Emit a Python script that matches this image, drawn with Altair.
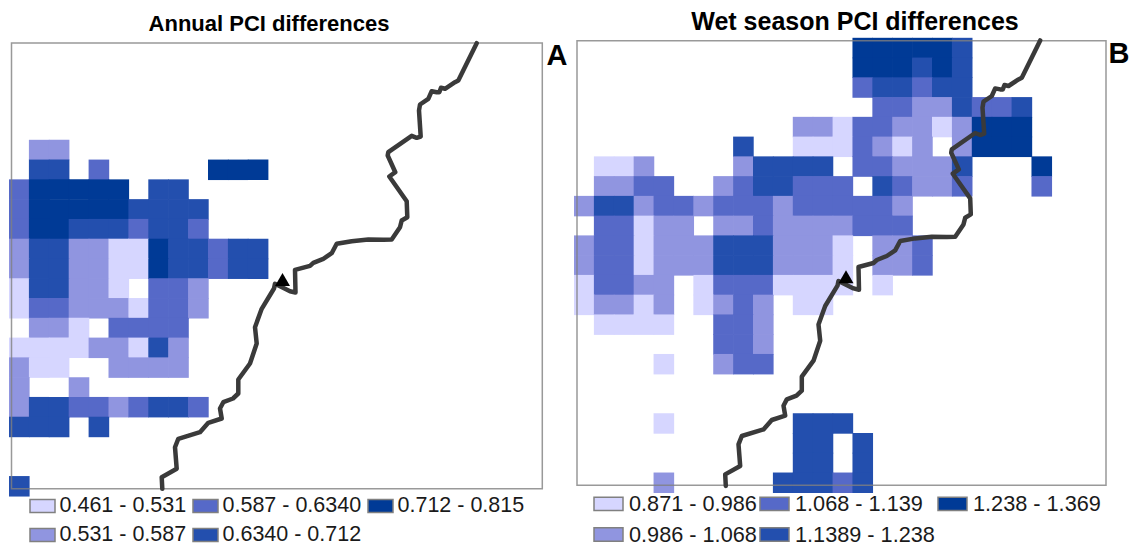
import altair as alt
import pandas as pd

FONT = "Liberation Sans"

# Class colours, shared by both panels
class_colors = ["#D6D6FF", "#9095E0", "#5669C8", "#234FAE", "#003A96"]

# Panel A: each string is a row of the raster, digit = class (1-5), "." = no data
grid_a = [
    ".22",
    ".44.3.....555",
    "355555.44",
    "3555554444",
    "3554443443",
    "2442211544344",
    "2442211544344",
    "144221.332",
    "1332221332",
    ".221.3333",
    "111122142",
    "211..2222",
    "2..2",
    "2443323443",
    "444.4",
    "",
    "",
    "4",
]
labels_a = ["0.461 - 0.531", "0.531 - 0.587", "0.587 - 0.6340", "0.6340 - 0.712", "0.712 - 0.815"]

# Panel B
grid_b = [
    "..............555554",
    "..............555454",
    "..............344344",
    "...............33224334",
    "...........221332212555",
    "........4..1113212.2555",
    ".112....24444.332224...5",
    ".2233..2344333.43223...3",
    "24423323332333332",
    ".33122.2232222333",
    "23312224442221.223",
    "23312224442221.223",
    "13322.13331111.1",
    "12212.1232.11",
    ".1111..332",
    ".......332",
    "....1..233",
    "",
    "",
    "....1......444",
    "...........44.4",
    "...........44.4",
    "....2.....44434",
]
labels_b = ["0.871 - 0.986", "0.986 - 1.068", "1.068 - 1.139", "1.1389 - 1.238", "1.238 - 1.369"]

# Shared river course (map coordinates, panel A frame)
river_x = [476.7, 458.3, 455, 445, 441, 439.3, 436.7, 431.7, 428.3, 420, 419, 420.7, 416.7, 411.7,
           388.3, 387.7, 395.3, 389.3, 406.7, 407.3, 401.7, 400, 391.7, 383.3, 368.3, 351.7, 336.7,
           331.7, 323.3, 313.3, 310, 295, 295.5, 290, 275, 274, 261.7, 255, 256.7, 250, 238.3, 238.3,
           233, 223.3, 220, 221.7, 208.3, 200, 178.3, 175, 176.7, 161.7, 162.3]
river_y = [42.7, 80, 81.7, 88.3, 87.3, 91.7, 91.7, 90.7, 98.3, 104, 110, 136, 137.3, 135.3,
           151.7, 155, 171.7, 176, 200.7, 216.7, 220, 226.7, 239, 239.3, 239, 240.7, 243.3,
           252.7, 258.3, 262.3, 265.3, 269.3, 292, 290.7, 283.3, 288, 308.3, 326.7, 343, 363, 379, 393,
           398, 401.7, 408, 418, 422.3, 431.7, 438.3, 446.7, 468.3, 476.7, 488.3]


def cells(grid, labels, x0, y0, dx, dy):
    rows = []
    for r, line in enumerate(grid):
        for c, ch in enumerate(line):
            if ch != ".":
                # each cell slightly underlaps the next one so that no seam shows
                rows.append({"x": x0 + c * dx, "x2": x0 + (c + 1) * dx + 0.7,
                             "y": y0 + r * dy, "y2": y0 + (r + 1) * dy + 0.7,
                             "label": labels[int(ch) - 1]})
    return pd.DataFrame(rows)


def panel(grid, labels, title, title_size, title_dx, title_dy, letter, letter_xy, dom_x, grid_geo, frame,
          offset, legend_x, legend_y, symbol_path, symbol_size, label_size, label_off, col_pad, row_pad):
    xs = alt.Scale(domain=dom_x, nice=False, zero=False)
    ys = alt.Scale(domain=[540, 35.5], nice=False, zero=False)
    X = lambda f: alt.X(f"{f}:Q", scale=xs, axis=None)
    Y = lambda f: alt.Y(f"{f}:Q", scale=ys, axis=None)

    rects = alt.Chart(cells(grid, labels, *grid_geo)).mark_rect().encode(
        x=X("x"), x2="x2", y=Y("y"), y2="y2",
        color=alt.Color(
            "label:N",
            scale=alt.Scale(domain=labels, range=class_colors),
            legend=alt.Legend(
                title=None, orient="none", legendX=legend_x, legendY=legend_y,
                columns=3, direction="vertical", symbolType=symbol_path,
                symbolSize=symbol_size, symbolStrokeColor="#808080", symbolStrokeWidth=1.5,
                symbolOpacity=1, labelFont=FONT, labelFontSize=label_size, labelColor="#1a1a1a",
                labelOffset=label_off, columnPadding=col_pad, rowPadding=row_pad, labelLimit=200,
            ),
        ),
    )
    frame_layer = alt.Chart(pd.DataFrame([frame], columns=["x", "x2", "y", "y2"])).mark_rect(
        fillOpacity=0, stroke="#808080", strokeWidth=1.5, strokeOpacity=0.8
    ).encode(x=X("x"), x2="x2", y=Y("y"), y2="y2")

    river = pd.DataFrame({"x": [v + offset[0] for v in river_x],
                          "y": [v + offset[1] for v in river_y],
                          "o": range(len(river_x))})
    river_layer = alt.Chart(river).mark_line(
        color="#3a3a3a", strokeWidth=4.5, strokeCap="round", strokeJoin="round"
    ).encode(x=X("x"), y=Y("y"), order="o:Q")

    station = alt.Chart(pd.DataFrame({"x": [282.5 + offset[0]], "y": [279 + offset[1]]})).mark_point(
        shape="triangle-up", size=225, filled=True, color="#000000", opacity=1
    ).encode(x=X("x"), y=Y("y"))

    tag = alt.Chart(pd.DataFrame({"x": [letter_xy[0]], "y": [letter_xy[1]], "t": [letter]})).mark_text(
        font=FONT, fontWeight="bold", fontSize=29, color="#000000", align="center", baseline="middle"
    ).encode(x=X("x"), y=Y("y"), text="t:N")

    return alt.layer(rects, frame_layer, river_layer, station, tag).properties(
        width=dom_x[1] - dom_x[0], height=504.5,
        title=alt.TitleParams(title, font=FONT, fontWeight="bold", fontSize=title_size, color="#000000",
                              anchor="middle", dx=title_dx, dy=title_dy, offset=-22, baseline="bottom"),
    )


SWATCH_A = "M-1,-0.52H1V0.52H-1Z"
SWATCH_B = "M-1,-0.46H1V0.46H-1Z"

left = panel(grid_a, labels_a, "Annual PCI differences", 22, -20, 0, "A", (557, 55), [8, 570],
             (9, 139.3, 19.9, 19.78), (11.5, 542.3, 42.5, 488.3), (0, 0),
             21, 456.5, SWATCH_A, 625, 21.5, 3.5, 3, 5)
right = panel(grid_b, labels_b, "Wet season PCI differences", 25, 5, 2, "B", (1119, 53), [570, 1130],
              (574, 37.3, 19.89, 19.76), (577, 1106, 40.3, 484.7), (563.5, -2.8),
              23, 452, SWATCH_B, 841, 21.7, 5, 0, 3)

chart = alt.hconcat(left, right, spacing=0).resolve_scale(color="independent").properties(
    padding={"left": 0, "right": 0, "top": 2, "bottom": 0}, background="white"
).configure_view(stroke=None)

chart.save("out.html", embed_options={"renderer": "svg", "actions": False})
